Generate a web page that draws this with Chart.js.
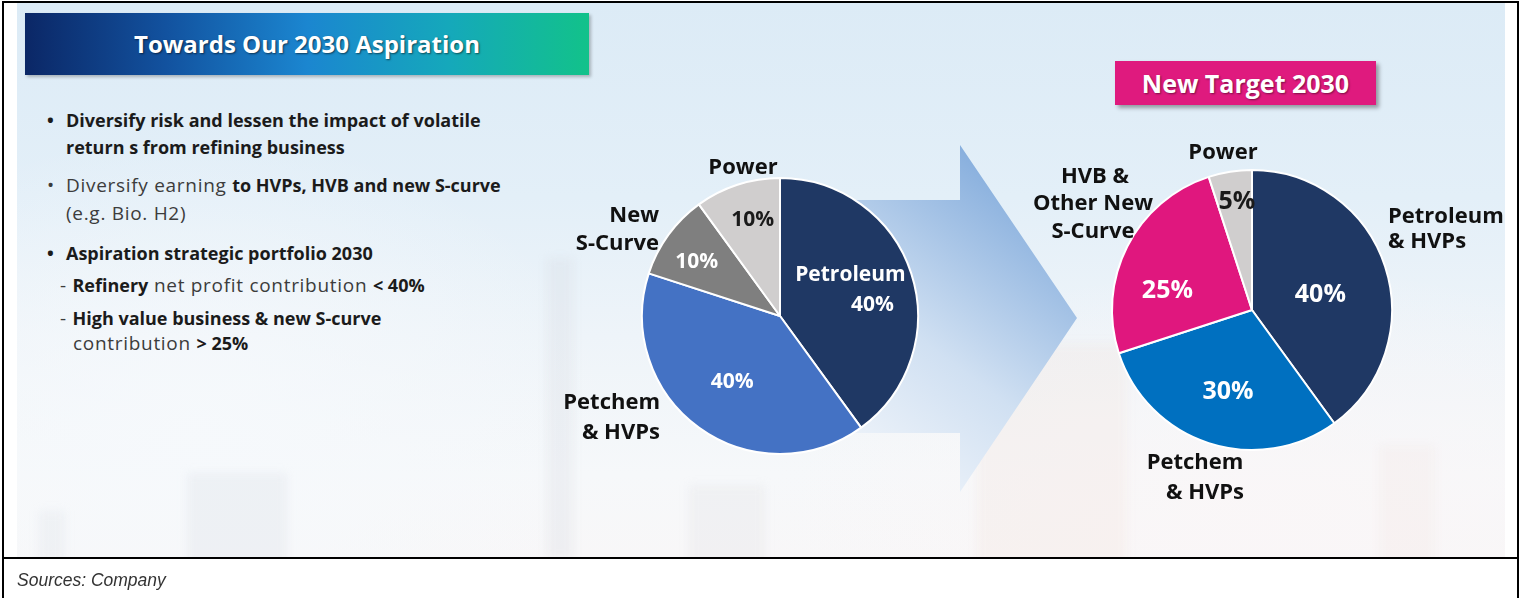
<!DOCTYPE html>
<html>
<head>
<meta charset="utf-8">
<script src="https://cdn.jsdelivr.net/npm/chart.js@4.4.0/dist/chart.umd.min.js"></script>
<style>
  html, body { margin:0; padding:0; width:1520px; height:598px; overflow:hidden; background:#ffffff; }
  body { position:relative; font-family:"Open Sans", "DejaVu Sans", sans-serif; }
  .line { position:absolute; background:#000; }
  #slide { position:absolute; left:17px; top:3px; width:1488px; height:554px; overflow:hidden;
    background:
      radial-gradient(ellipse 420px 300px at 180px 430px, rgba(246,249,252,0.95), rgba(246,249,252,0) 100%),
      radial-gradient(ellipse 500px 260px at 1250px 520px, rgba(250,246,247,0.9), rgba(250,246,247,0) 100%),
      linear-gradient(180deg, #dcebf6 0%, #e3eff8 35%, #eef4f9 60%, #f6f8fa 85%, #f8f7f8 100%);
  }
  .deco { position:absolute; filter: blur(5px); }
  #banner { position:absolute; left:25px; top:13px; width:564px; height:62px;
    background: linear-gradient(90deg, #0b2766 0%, #12529f 25%, #1b86d0 50%, #15a8bb 75%, #12c28a 100%);
    box-shadow: 2px 2px 3px rgba(0,0,0,0.25);
    color:#fff; font-weight:700; font-size:24px; text-align:center; line-height:62px;
    text-shadow: 1px 1px 2px rgba(0,0,0,0.55); }
  #target { position:absolute; left:1115px; top:61px; width:261px; height:44px;
    background:#df1a7e; box-shadow: 3px 3px 4px rgba(0,0,0,0.35);
    color:#fff; font-weight:700; font-size:25px; text-align:center; line-height:44px;
    text-shadow: 1px 1px 2px rgba(0,0,0,0.45); }
  .t { position:absolute; font-size:18px; color:#1b1b1b; white-space:nowrap; line-height:26px; transform:translateY(-13px); }
  .b { font-weight:700; font-size:18px; }
  .n { font-weight:400; font-size:19px; letter-spacing:0.7px; color:#3c3c3c; }
  #src { position:absolute; left:17px; top:570px; font-family:"Liberation Sans", Arial, sans-serif; font-style:italic; font-size:17.5px; color:#333; }
  canvas { position:absolute; left:0; top:0; }
  svg { position:absolute; left:0; top:0; }
</style>
</head>
<body>
<div id="slide">
  <div class="deco" style="left:530px;top:255px;width:26px;height:300px;background:rgba(205,210,220,0.22);"></div>
  <div class="deco" style="left:170px;top:470px;width:100px;height:90px;background:rgba(200,205,215,0.18);"></div>
  <div class="deco" style="left:22px;top:508px;width:26px;height:50px;background:rgba(200,205,215,0.16);"></div>
  <div class="deco" style="left:672px;top:482px;width:76px;height:80px;background:rgba(205,205,212,0.16);"></div>
  <div class="deco" style="left:960px;top:340px;width:150px;height:220px;background:rgba(240,222,212,0.22);"></div>
  <div class="deco" style="left:1362px;top:442px;width:56px;height:120px;background:rgba(238,225,220,0.2);"></div>
</div>

<svg width="1520" height="598" viewBox="0 0 1520 598">
  <defs>
    <linearGradient id="arrowGrad" x1="0.15" y1="1" x2="0.75" y2="0">
      <stop offset="0" stop-color="#f7f9fc"/>
      <stop offset="0.45" stop-color="#d0e0f2"/>
      <stop offset="1" stop-color="#7ca7da"/>
    </linearGradient>
  </defs>
  <polygon points="800,200 960,200 960,145 1077,318 960,492 960,433 800,433" fill="url(#arrowGrad)"/>
</svg>

<div id="banner">Towards Our 2030 Aspiration</div>
<div id="target">New Target 2030</div>

<div class="t b" style="left:47px;top:120px;">•</div>
<div class="t b" style="left:66px;top:120px;">Diversify risk and lessen the impact of volatile</div>
<div class="t b" style="left:66px;top:147px;">return s from refining business</div>
<div class="t n" style="left:47px;top:185px;">•</div>
<div class="t" style="left:66px;top:185px;"><span class="n">Diversify earning </span><span class="b">to HVPs, HVB and new S-curve</span></div>
<div class="t n" style="left:66px;top:213px;">(e.g. Bio. H2)</div>
<div class="t b" style="left:47px;top:253px;">•</div>
<div class="t b" style="left:66px;top:253px;">Aspiration strategic portfolio 2030</div>
<div class="t" style="left:60px;top:285px;"><span class="n">- </span><span class="b">Refinery</span><span class="n"> net profit contribution </span><span class="b">&lt; 40%</span></div>
<div class="t" style="left:60px;top:318px;"><span class="n">- </span><span class="b">High value business &amp; new S-curve</span></div>
<div class="t" style="left:73px;top:343px;"><span class="n">contribution </span><span class="b">&gt; 25%</span></div>

<canvas id="pie2022" width="1520" height="598"></canvas>
<canvas id="pie2030" width="1520" height="598"></canvas>

<div class="line" style="left:2px;top:1px;width:1517px;height:2px;"></div>
<div class="line" style="left:2px;top:1px;width:2px;height:597px;"></div>
<div class="line" style="left:1517px;top:1px;width:2px;height:597px;"></div>
<div class="line" style="left:2px;top:557px;width:1517px;height:2px;"></div>
<div id="src">Sources: Company</div>

<script>
// ---------- DATA ----------
const categoriesCurrent = ["Petroleum", "Petchem\n& HVPs", "New\nS-Curve", "Power"];
const sharesCurrent = [40, 40, 10, 10];
const categoriesTarget2030 = ["Petroleum\n& HVPs", "Petchem\n& HVPs", "HVB &\nOther New\nS-Curve", "Power"];
const sharesTarget2030 = [40, 30, 25, 5];

// ---------- STYLE / LAYOUT ----------
const colorsCurrent = ["#1f3864", "#4472c4", "#7f7f7f", "#d0cece"];
const colorsTarget = ["#1f3864", "#0070c0", "#e0177e", "#d0cece"];
const FONT = '"Open Sans", "DejaVu Sans", sans-serif';

const layoutCurrent = {
  center: {x: 780, y: 316}, radius: 138, innerSize: 21, outerSize: 22,
  slices: [
    {f: 0.62, da: 0, nameInside: true, innerColor: "#ffffff", inner: [{dx: -11, dy: -15}, {dx: 11, dy: 15}], outer: null},
    {f: 0.59, da: 0, innerColor: "#ffffff", outer: [{dx: -120, dy: 87, align: "right"}, {dx: -120, dy: 117, align: "right"}]},
    {f: 0.72, da: -3, innerColor: "#ffffff", outer: [{dx: -121, dy: -100, align: "right"}, {dx: -121, dy: -72, align: "right"}]},
    {f: 0.72, da: 2, innerColor: "#1a1a1a", outer: [{dx: -37, dy: -148, align: "center"}]}
  ]
};
const layoutTarget = {
  center: {x: 1252, y: 310}, radius: 140, innerSize: 25, outerSize: 22,
  slices: [
    {f: 0.5, da: 5.6, innerColor: "#ffffff", outer: [{dx: 136, dy: -93, align: "left"}, {dx: 136, dy: -68, align: "left"}]},
    {f: 0.61, da: -1.7, innerColor: "#ffffff", outer: [{dx: -57, dy: 153, align: "center"}, {dx: -47, dy: 183, align: "center"}]},
    {f: 0.62, da: -14, innerColor: "#ffffff", outer: [{dx: -157, dy: -133, align: "center"}, {dx: -159, dy: -106, align: "center"}, {dx: -159, dy: -78, align: "center"}]},
    {f: 0.78, da: 1, innerColor: "#1a1a1a", outer: [{dx: -29, dy: -157, align: "center"}]}
  ]
};

function sliceLabelPlugin(cfg) {
  return {
    id: "sliceLabels",
    afterDatasetsDraw(chart) {
      const ctx = chart.ctx;
      const meta = chart.getDatasetMeta(0);
      const values = chart.data.datasets[0].data;
      meta.data.forEach((arc, i) => {
        const p = arc.getProps(["x", "y", "startAngle", "endAngle", "outerRadius"], true);
        const c = cfg.slices[i];
        const names = String(chart.data.labels[i]).split("\n");
        const valText = values[i] + "%";
        const mid = (p.startAngle + p.endAngle) / 2 + c.da * Math.PI / 180;
        const ax = p.x + Math.cos(mid) * c.f * p.outerRadius;
        const ay = p.y + Math.sin(mid) * c.f * p.outerRadius;
        ctx.save();
        ctx.textBaseline = "middle";
        const innerTexts = c.nameInside ? names.concat([valText]) : [valText];
        ctx.font = "700 " + cfg.innerSize + "px " + FONT;
        ctx.fillStyle = c.innerColor;
        ctx.textAlign = "center";
        innerTexts.forEach((t, k) => {
          const o = (c.inner && c.inner[k]) || {dx: 0, dy: 0};
          ctx.fillText(t, ax + o.dx, ay + o.dy);
        });
        if (c.outer) {
          ctx.font = "700 " + cfg.outerSize + "px " + FONT;
          ctx.fillStyle = "#111111";
          names.forEach((t, k) => {
            const o = c.outer[k];
            ctx.textAlign = o.align;
            ctx.fillText(t, p.x + o.dx, p.y + o.dy);
          });
        }
        ctx.restore();
      });
    }
  };
}

function makePie(id, labels, values, colors, cfg) {
  const W = 1520, H = 598, half = cfg.radius + 1;
  return new Chart(document.getElementById(id), {
    type: "pie",
    data: { labels: labels, datasets: [{ data: values, backgroundColor: colors, borderColor: "#ffffff", borderWidth: 2 }] },
    options: {
      responsive: false, animation: false, devicePixelRatio: 1,
      layout: { padding: { left: cfg.center.x - half, top: cfg.center.y - half, right: W - (cfg.center.x + half), bottom: H - (cfg.center.y + half) } },
      plugins: { legend: { display: false }, tooltip: { enabled: false } },
      events: []
    },
    plugins: [sliceLabelPlugin(cfg)]
  });
}

makePie("pie2022", categoriesCurrent, sharesCurrent, colorsCurrent, layoutCurrent);
makePie("pie2030", categoriesTarget2030, sharesTarget2030, colorsTarget, layoutTarget);
</script>
</body>
</html>
